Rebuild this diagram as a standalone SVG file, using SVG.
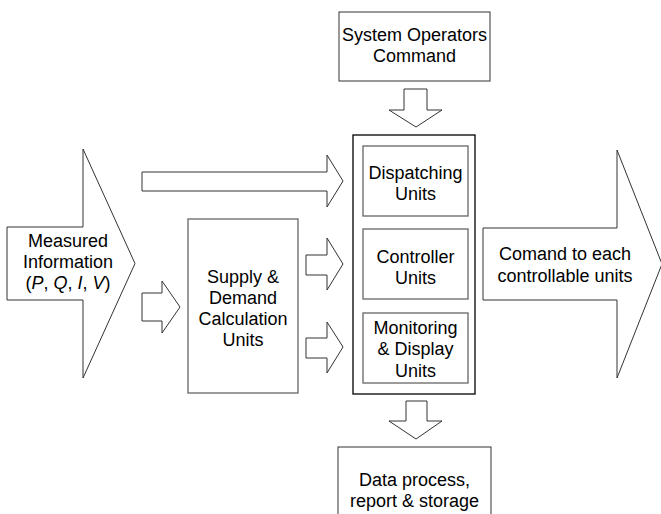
<svg xmlns="http://www.w3.org/2000/svg" width="661" height="514" viewBox="0 0 661 514">
<style>
.arr{fill:#fff;stroke:#333;stroke-width:1}
.box{fill:#fff;stroke:#333;stroke-width:1}
.inner{fill:#fff;stroke:#666;stroke-width:1.3}
.cont{fill:#fff;stroke:#000;stroke-width:1.3}
text{font-family:"Liberation Sans",Arial,sans-serif;font-size:18px;fill:#000;text-anchor:middle}
</style>
<rect width="661" height="514" fill="#fff"/>
<g id="connectors">
<polygon class="arr" points="7,227 83,227 83,149 135,263.5 83,378 83,300 7,300"/>
<polygon class="arr" points="142,172 327,172 327,155 343,181 327,207 327,191 142,191"/>
<polygon class="arr" points="142,293 162,293 162,281 180,307 162,333 162,321 142,321"/>
<polygon class="arr" points="306,255 327,255 327,238 343,264 327,290 327,275 306,275"/>
<polygon class="arr" points="306,338 327,338 327,322 343,347 327,373 327,358 306,358"/>
<polygon class="arr" points="404,89 427,89 427,110 442,110 416,127 389,110 404,110"/>
<polygon class="arr" points="406,401 427,401 427,421 442,421 416,439 389,421 406,421"/>
<polygon class="arr" points="483,228 617,228 617,150 662,264 617,378 617,300 483,300"/>
</g>
<g id="measured">
<text x="68" y="247">Measured</text>
<text x="68" y="268">Information</text>
<text x="68" y="289">(<tspan font-style="italic">P</tspan>, <tspan font-style="italic">Q</tspan>, <tspan font-style="italic">I</tspan>, <tspan font-style="italic">V</tspan>)</text>
</g>
<g id="command">
<text x="565" y="260">Comand to each</text>
<text x="565" y="282">controllable units</text>
</g>
<g id="system-operators">
<rect class="box" x="339" y="12" width="151" height="69"/>
<text x="414.5" y="41">System Operators</text>
<text x="414.5" y="62">Command</text>
</g>
<g id="supply-demand">
<rect class="inner" x="188" y="219" width="110" height="174"/>
<text x="243" y="283">Supply &amp;</text>
<text x="243" y="304">Demand</text>
<text x="243" y="325">Calculation</text>
<text x="243" y="346">Units</text>
</g>
<g id="container">
<rect class="cont" x="353" y="135" width="122" height="259"/>
</g>
<g id="dispatching">
<rect class="inner" x="363" y="146" width="105" height="70"/>
<text x="415.5" y="178.5">Dispatching</text>
<text x="415.5" y="199.5">Units</text>
</g>
<g id="controller">
<rect class="inner" x="363" y="229" width="105" height="70"/>
<text x="415.5" y="263">Controller</text>
<text x="415.5" y="284">Units</text>
</g>
<g id="monitoring">
<rect class="inner" x="363" y="313" width="105" height="70"/>
<text x="415.5" y="334">Monitoring</text>
<text x="415.5" y="355">&amp; Display</text>
<text x="415.5" y="377">Units</text>
</g>
<g id="data-process">
<rect class="box" x="338" y="447" width="153" height="80"/>
<text x="414.5" y="486">Data process,</text>
<text x="414.5" y="507">report &amp; storage</text>
</g>
</svg>
